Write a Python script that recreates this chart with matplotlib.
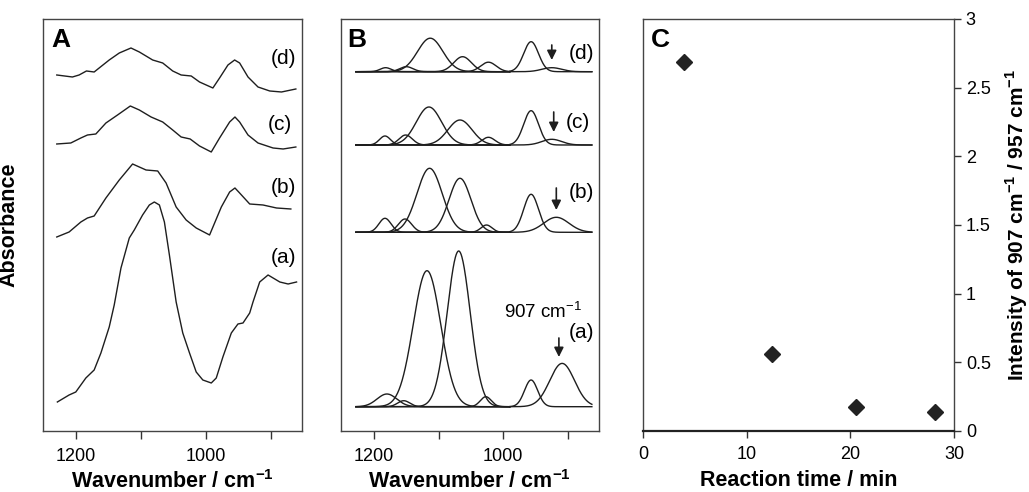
import numpy as np
import matplotlib.pyplot as plt

plt.rcParams['font.family'] = ['Liberation Sans', 'DejaVu Sans']
plt.rcParams['mathtext.fontset'] = 'custom'
plt.rcParams['mathtext.rm'] = 'Liberation Sans'
plt.rcParams['mathtext.bf'] = 'Liberation Sans:bold'

# ---- panel A: IR spectra (wavenumber / absorbance above the trace offset)
wn_a = [1228.9, 1210.8, 1200.5, 1185.0, 1172.2, 1161.8, 1149.0, 1141.3, 1130.9, 1118.1,
        1110.4, 1097.6, 1087.2, 1079.5, 1071.7, 1064.0, 1056.3, 1045.9, 1035.7, 1025.3,
        1015.0, 1004.8, 991.8, 984.1, 973.9, 960.9, 950.7, 942.9, 932.6, 927.5,
        917.2, 904.3, 886.2, 873.4, 860.4]
abs_a = [0.29, 0.36, 0.39, 0.53, 0.61, 0.78, 1.04, 1.26, 1.63, 1.93,
         2.01, 2.16, 2.26, 2.29, 2.26, 2.09, 1.76, 1.29, 0.98, 0.78,
         0.59, 0.51, 0.48, 0.53, 0.74, 0.98, 1.07, 1.08, 1.18, 1.29,
         1.49, 1.56, 1.49, 1.47, 1.49]

wn_b = [1229.8, 1210.8, 1192.7, 1182.5, 1172.2, 1154.1, 1133.5, 1113.0, 1092.3, 1074.3,
        1061.4, 1045.9, 1030.5, 1015.0, 994.4, 976.3, 963.5, 955.3, 948.1, 932.6,
        912.1, 891.3, 869.2]
abs_b = [0.04, 0.09, 0.19, 0.23, 0.25, 0.43, 0.61, 0.77, 0.71, 0.70,
         0.58, 0.34, 0.21, 0.13, 0.06, 0.34, 0.49, 0.53, 0.48, 0.37,
         0.36, 0.33, 0.32]

wn_c = [1229.8, 1208.2, 1192.7, 1182.5, 1169.6, 1154.1, 1136.2, 1116.5, 1102.6, 1084.5,
        1066.6, 1051.2, 1038.2, 1024.3, 1009.9, 991.8, 979.0, 963.5, 955.3, 948.1,
        935.2, 919.8, 896.6, 881.1, 861.5]
abs_c = [0.12, 0.13, 0.18, 0.21, 0.22, 0.33, 0.41, 0.50, 0.46, 0.39,
         0.34, 0.26, 0.19, 0.17, 0.10, 0.04, 0.18, 0.34, 0.39, 0.34,
         0.21, 0.13, 0.08, 0.07, 0.09]

wn_d = [1229.8, 1205.7, 1195.4, 1184.1, 1172.2, 1164.5, 1149.0, 1133.5, 1115.5, 1102.6,
        1082.1, 1066.6, 1051.2, 1038.2, 1022.7, 1009.9, 989.3, 979.0, 966.1, 955.8,
        948.1, 935.2, 919.8, 901.7, 883.6, 861.5]
abs_d = [0.21, 0.19, 0.21, 0.25, 0.24, 0.28, 0.36, 0.43, 0.48, 0.44,
         0.36, 0.33, 0.25, 0.21, 0.20, 0.14, 0.08, 0.18, 0.31, 0.36,
         0.33, 0.19, 0.09, 0.05, 0.04, 0.07]

spec_offsets = [0.0, 1.9, 2.75, 3.35]
spec_names = ['(a)', '(b)', '(c)', '(d)']

# ---- panel B: fitted bands (centre cm-1, height, fwhm cm-1) per sample
bands_a = [(1180, 0.127, 36), (1154, 0.06, 22), (1118, 1.36, 50), (1069, 1.557, 42),
           (1027, 0.10, 20), (957, 0.267, 24), (909, 0.433, 45)]
bands_b = [(1183, 0.14, 22), (1152, 0.133, 24), (1114, 0.64, 46), (1067, 0.54, 40),
           (1026, 0.073, 20), (957, 0.38, 27), (918, 0.15, 46)]
bands_c = [(1183, 0.09, 20), (1151, 0.10, 24), (1115, 0.38, 46), (1067, 0.25, 44),
           (1023, 0.077, 24), (957, 0.343, 27), (925, 0.057, 36)]
bands_d = [(1182, 0.04, 20), (1150, 0.05, 24), (1113, 0.335, 46), (1063, 0.15, 32),
           (1023, 0.095, 28), (957, 0.30, 27), (925, 0.04, 36)]
fit_offsets = [0.243, 1.987, 2.86, 3.593]
arrow_wn = [914, 918, 922, 925]

# ---- panel C: band ratio vs time
time_min = [4.0, 12.4, 20.5, 28.2]
ratio = [2.69, 0.56, 0.175, 0.135]

lc = '#1e1e1e'
fig = plt.figure(figsize=(10.29, 4.92), dpi=100)
axA = fig.add_axes([0.0418, 0.124, 0.2517, 0.8374])
axB = fig.add_axes([0.3314, 0.124, 0.2507, 0.8374])
axC = fig.add_axes([0.6249, 0.124, 0.3022, 0.8374])

xlab = r'Wavenumber / cm$^{\mathbf{-1}}$'

for ax in (axA, axB):
    ax.set_xlim(1251, 852)
    ax.set_ylim(0, 4.12)
    ax.set_yticks([])
    ax.set_xticks([1200, 1000])
    ax.set_xticks([1100, 900], minor=True)
    ax.tick_params(axis='x', which='both', direction='out', length=6, width=1,
                   color='#333333', labelsize=13, pad=6)
    for s in ax.spines.values():
        s.set_color('#444444')
        s.set_linewidth(1)
    ax.set_xlabel(xlab, fontsize=15.5, fontweight='bold')
    ax.xaxis.set_label_coords(0.5, -0.095)

# A
spectra = [(wn_a, abs_a), (wn_b, abs_b), (wn_c, abs_c), (wn_d, abs_d)]
for (w, a), off in zip(spectra, spec_offsets):
    axA.plot(w, np.array(a) + off, color=lc, lw=1.0, solid_joinstyle='round')
lab_pos_A = [(0.927, 0.42), (0.927, 0.59), (0.915, 0.743), (0.927, 0.905)]
for name, (x, y) in zip(spec_names, lab_pos_A):
    axA.text(x, y, name, transform=axA.transAxes, fontsize=15, ha='center', va='center')
axA.text(0.033, 0.979, 'A', transform=axA.transAxes, fontsize=19, fontweight='bold',
         ha='left', va='top')
axA.set_ylabel('Absorbance', fontsize=15.5, fontweight='bold')
axA.yaxis.set_label_coords(-0.089, 0.5)

# B
def gauss(x, c, h, fw):
    s = fw / 2.3548
    return h * np.exp(-0.5 * ((x - c) / s) ** 2)

xl = np.linspace(1228, 990, 400)
xr = np.linspace(990, 863, 250)
for bands, off in zip([bands_a, bands_b, bands_c, bands_d], fit_offsets):
    for c, h, fw in bands:
        x = xl if c > 990 else xr
        axB.plot(x, gauss(x, c, h, fw) + off, color=lc, lw=1.0)

arrow_y = [(0.93, 0.74), (2.43, 2.21), (3.19, 2.99), (3.86, 3.71)]
for w, (y0, y1) in zip(arrow_wn, arrow_y):
    axB.annotate('', xy=(w, y1), xytext=(w, y0),
                 arrowprops=dict(arrowstyle='-|>', color=lc, lw=1.2, mutation_scale=14,
                                 shrinkA=0, shrinkB=0))
lab_pos_B = [(0.933, 0.238), (0.933, 0.578), (0.919, 0.748), (0.933, 0.917)]
for name, (x, y) in zip(spec_names, lab_pos_B):
    axB.text(x, y, name, transform=axB.transAxes, fontsize=15, ha='center', va='center')
axB.text(0.783, 0.29, r'907 cm$^{\mathrm{-1}}$', transform=axB.transAxes, fontsize=13.5,
         ha='center', va='center')
axB.text(0.025, 0.977, 'B', transform=axB.transAxes, fontsize=19, fontweight='bold',
         ha='left', va='top')

# C
axC.plot(time_min, ratio, ls='none', marker='D', ms=8.5, color='#222222')
axC.set_xlim(0, 30)
axC.set_ylim(0, 3)
axC.set_xticks([0, 10, 20, 30])
axC.set_yticks([0, 0.5, 1, 1.5, 2, 2.5, 3])
axC.set_yticklabels(['0', '0.5', '1', '1.5', '2', '2.5', '3'])
axC.yaxis.tick_right()
axC.yaxis.set_label_position('right')
axC.tick_params(direction='out', length=5, width=1, color='#333333', labelsize=13)
axC.tick_params(axis='x', pad=6)
for s in axC.spines.values():
    s.set_color('#444444')
    s.set_linewidth(1)
axC.spines['bottom'].set_linewidth(1.6)
axC.spines['bottom'].set_color('#222222')
axC.set_xlabel('Reaction time / min', fontsize=15.5, fontweight='bold')
axC.xaxis.set_label_coords(0.5, -0.095)
axC.set_ylabel(r'Intensity of 907 cm$^{\mathbf{-1}}$ / 957 cm$^{\mathbf{-1}}$',
               fontsize=15, fontweight='bold')
axC.yaxis.set_label_coords(1.158, 0.5)
axC.text(0.026, 0.977, 'C', transform=axC.transAxes, fontsize=19, fontweight='bold',
         ha='left', va='top')

fig.savefig('out.png', dpi=100)
